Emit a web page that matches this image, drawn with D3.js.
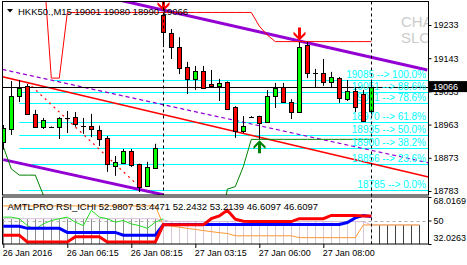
<!DOCTYPE html>
<html><head><meta charset="utf-8">
<script src="https://cdn.jsdelivr.net/npm/d3@7"></script>
<style>
body{margin:0;background:#fff}
svg{display:block}
text{font-family:"Liberation Sans",Arial,sans-serif}
</style>
</head><body>
<svg id="c" width="467" height="265"></svg>
<script>
// ---------- DATA ----------
const opens  = [18916,18951,19041,19068,18992,18957,18957,18957,18981,18984,18960,18960,18949,18927,18851,18859,18892,18856,18797,18846,19260,19211,19173,19119,19087,19108,19073,19068,19079,19011,18946,18984,18986,18970,19041,19065,19024,18997,19179,19103,19103,19079,19089,19032,19054,19046,19001];
const highs  = [18962,19081,19084,19073,19003,18981,18958,18983,19000,18997,18981,18992,18960,18932,18878,18897,18897,18857,18862,18911,19267,19222,19200,19133,19122,19122,19111,19087,19080,19013,18986,18986,18987,19057,19076,19076,19032,19187,19187,19114,19141,19106,19092,19084,19065,19057,19080];
const lows   = [18895,18935,19024,18990,18954,18951,18956,18924,18940,18957,18938,18929,18905,18835,18824,18856,18848,18780,18794,18845,19173,19141,19100,19046,19057,19060,19065,19027,19003,18927,18940,18983,18923,18970,19008,19022,18978,18995,19089,19065,19068,19065,19022,19027,18997,18970,18990];
const closes = [18954,19041,19062,18992,18957,18976,18957,18981,18981,18965,18960,18951,18924,18856,18862,18892,18854,18794,18848,18900,19214,19173,19116,19087,19108,19062,19068,19076,19005,18946,18960,18984,18967,19041,19062,19024,18997,19173,19103,19103,19079,19092,19035,19054,19011,18973,19066];

const timeLabels  = ["26 Jan 2016","26 Jan 06:15","26 Jan 08:15","27 Jan 03:15","27 Jan 06:00","27 Jan 08:00"];
const timeTickIdx = [0,8,16,24,32,40];
const priceTicks  = [19233,19143,19053,18963,18873,18783];
const lastPrice   = 19066;

const fibPrices = [19085,19051,19021,18970,18935,18900,18856,18785];
const fibPct    = ["100.0%","88.6%","78.6%","61.8%","50.0%","38.2%","23.6%","0.0%"];
const fibStart  = [6,2,2,2,2,2,2,2];

// trend lines: [barIndex, price] anchor pairs
const upperChannel = [[14,19303],[53,19111]];
const lowerChannel = [[0,18868],[20,18773]];
const redTrend     = [[0,19092],[53,18822]];
const purpleDash   = [[0,19112],[53,18860]];
const redDotted    = [[3,19078],[17,18795]];

// envelope-style indicator lines (per bar)
const hiLine = [19400,19400,19400,19400,19400,19400,19089,19089,19266,19267,19267,19267,19267,19267,19267,19267,19267,19267,19267,19267,19267,19267,19267,19267,19267,19267,19267,19267,19267,19267,19267,19267,19230,19206,19188,19188,19188,19188,19188,19188,19188,19188,19188,19188,19188,19188,19188];
const loLine = [18903,18843,18826,18826,18826,18772,18650,18650,18650,18650,18650,18650,18650,18650,18650,18650,18650,18650,18650,18650,18650,18650,18650,18650,18650,18650,18650,18650,18788,18795,18849,18923,18923,18923,18923,18923,18923,18923,18923,18923,18923,18923,18923,18923,18923,18923,18923];

const sellSignals = [20,37];
const buySignals  = [32];
const markerBars  = [20,46];

// sub window (AMTLPRO RSI_ICHI)
const subBlue  = [45.6,45.6,45.6,44.0,44.0,44.0,44.0,44.0,40.9,40.9,40.9,40.9,40.9,40.9,40.9,38.8,38.8,38.8,38.8,38.8,46.7,46.9,46.9,46.9,46.9,46.9,46.9,46.9,46.9,46.9,46.9,46.9,46.9,46.9,46.9,46.9,46.9,46.9,46.9,46.9,46.9,46.9,46.9,48.5,52.0,53.9,52.98];
const subRed   = [38.8,38.8,38.8,33.6,33.6,33.6,33.6,33.6,33.6,37.5,37.5,37.5,37.5,33.6,33.6,33.6,33.6,33.6,33.6,33.6,46.7,46.7,46.7,46.7,46.7,46.7,51.4,53.5,57.8,51.0,49.4,49.2,49.2,49.2,49.2,49.2,49.2,51.4,51.4,51.4,51.4,53.9,53.9,53.9,53.9,53.4,53.45];
const subGreen = [52.6,52.6,51.4,46.1,43.5,47.4,50.0,51.4,52.6,48.7,46.1,57.8,52.6,51.4,48.7,50.0,47.4,46.1,44.0,48.7,51.4];
const subSpanA = [61.2,61.2,61.2,61.2,61.2,61.2,61.2,61.2,61.2,61.2,61.2,61.2,61.2,61.2,61.2,61.2,61.2,61.2,61.2,61.2,46.7,45.8,44.9,44.0,43.2,42.3,41.5,40.7,40.1,38.3,38.3,38.3,38.3,38.3,38.3,38.3,38.3,36.9,36.9,36.9,36.9,36.9,36.9,36.9,36.9,46.6,46.6,46.6,46.6,46.6,46.6,46.6,46.6];
const subSpanB = [51.4,51.4,51.4,51.4,51.4,51.4,51.4,51.4,51.4,51.4,51.4,51.4,51.4,51.4,51.4,51.4,51.4,51.4,51.4,51.4,50.5,49.2,49.2,49.2,49.2,49.2,49.2,49.2,49.2,49.2,49.2,49.2,49.2,49.2,49.2,49.2,49.2,49.2,49.2,49.2,49.2,49.2,49.2,49.2,49.2,49.2,46.6,46.6,46.6,46.6,46.6,46.6,46.6];
const subTicks = [68.0169,50,32.0263];
const subLevel = 50;
const subTitle = "AMTLPRO RSI_ICHI 52.9807 53.4471 52.2432 53.2139 46.6097 46.6097";
const header = "HKK50.,M15 19001 19080 18990 19066";

// ---------- LAYOUT ----------
const M = {l:2.5, r:428.5, t:1.5, b:195};
const S = {t:197, b:244};
const svg = d3.select("#c");
const x  = d3.scaleLinear().domain([0,53]).range([3.3,427.3]);
const y  = d3.scaleLinear().domain([18783,19233]).range([191,25]);
const ys = d3.scaleLinear().domain([32.0263,68.0169]).range([244,197]);
const cx = i => Math.round(x(i)) + 0.5;

const defs = svg.append("defs");
defs.append("clipPath").attr("id","mclip").append("rect")
  .attr("x",M.l).attr("y",M.t).attr("width",M.r-M.l).attr("height",M.b-M.t);
defs.append("clipPath").attr("id","sclip").append("rect")
  .attr("x",M.l).attr("y",S.t).attr("width",M.r-M.l).attr("height",S.b-S.t);

const main = svg.append("g").attr("clip-path","url(#mclip)");
const sub  = svg.append("g").attr("clip-path","url(#sclip)");

// watermark (clipped at the plot edge)
main.append("text").attr("x",401).attr("y",27).attr("font-size",15).attr("fill","#cccccc").text("CHA");
main.append("text").attr("x",401).attr("y",43).attr("font-size",15).attr("fill","#cccccc").text("SLC");

// helper: line through two anchors, optionally extended to plot edges
function extLine(g, pts, x0, x1, attrs, extend){
  const [[i0,p0],[i1,p1]] = pts;
  const f = i => p0 + (p1-p0)*(i-i0)/(i1-i0);
  const a = extend ? x.invert(x0) : i0, b = extend ? x.invert(x1) : i1;
  const l = g.append("line").attr("x1",x(a)).attr("y1",y(f(a))).attr("x2",x(b)).attr("y2",y(f(b)));
  for (const k in attrs) l.attr(k, attrs[k]);
}

// fib lines
fibPrices.forEach((p,k)=>{
  main.append("line").attr("x1",x(fibStart[k])).attr("x2",M.r)
    .attr("y1",Math.round(y(p))+0.5).attr("y2",Math.round(y(p))+0.5)
    .attr("stroke","#00ffff").attr("stroke-width",1);
});

// trend lines
extLine(main, redTrend, M.l, M.r, {stroke:"#ff0000","stroke-width":1.5}, true);
extLine(main, purpleDash, M.l, M.r, {stroke:"#9400d3","stroke-width":1.2,"stroke-dasharray":"4,3"}, true);
extLine(main, redDotted, 0, 0, {stroke:"#ff0000","stroke-width":1.2,"stroke-dasharray":"2,4"}, false);
extLine(main, upperChannel, M.l, M.r, {stroke:"#9400d3","stroke-width":3}, false);
extLine(main, lowerChannel, M.l, M.r, {stroke:"#9400d3","stroke-width":3}, false);

// indicator lines
const lineGen = d3.line().x((d,i)=>x(i)).y(d=>y(d));
main.append("path").attr("d",lineGen(hiLine)).attr("fill","none").attr("stroke","#ff0000").attr("stroke-width",1);
main.append("path").attr("d",lineGen(loLine)).attr("fill","none").attr("stroke","#008000").attr("stroke-width",1);

// bid line
main.append("line").attr("x1",M.l).attr("x2",M.r)
  .attr("y1",Math.round(y(lastPrice))+0.5).attr("y2",Math.round(y(lastPrice))+0.5)
  .attr("stroke","#000").attr("stroke-width",1);

// fib labels
fibPrices.forEach((p,k)=>{
  main.append("text").attr("x",426).attr("y",y(p)-2).attr("text-anchor","end")
    .attr("font-size",10).attr("fill","#00ffff").text(p+" --> "+fibPct[k]);
});

// candles
const cg = main.append("g");
opens.forEach((o,i)=>{
  const c = closes[i], X = cx(i);
  cg.append("line").attr("x1",X).attr("x2",X).attr("y1",y(highs[i])).attr("y2",y(lows[i]))
    .attr("stroke","#000").attr("stroke-width",1);
  if (Math.abs(y(o)-y(c)) < 1) {
    cg.append("line").attr("x1",X-2.5).attr("x2",X+2.5).attr("y1",Math.round(y(c))+0.5).attr("y2",Math.round(y(c))+0.5)
      .attr("stroke","#000").attr("stroke-width",1);
  } else {
    const t = Math.round(y(Math.max(o,c)))+0.5, b = Math.round(y(Math.min(o,c)))+0.5;
    cg.append("rect").attr("x",X-2).attr("width",4).attr("y",t).attr("height",b-t)
      .attr("fill", c>o ? "#00ff00" : "#ff0000").attr("stroke","#000").attr("stroke-width",1);
  }
});

// dashed vertical markers
markerBars.forEach((i,k)=>{
  svg.append("line").attr("x1",cx(i)).attr("x2",cx(i)).attr("y1",M.t).attr("y2", k===0 ? M.b : S.b)
    .attr("stroke","#000").attr("stroke-width",1).attr("stroke-dasharray","3,3");
});

// signal arrows
const downArrow = "M0,0 L-6,-6 L-6,-9 L-1.5,-4.5 L-1.5,-13 L1.5,-13 L1.5,-4.5 L6,-9 L6,-6 Z";
sellSignals.forEach(i=>{
  main.append("path").attr("d",downArrow).attr("fill","#ff0000")
    .attr("transform",`translate(${cx(i)},${y(highs[i])-1.5})`);
});
buySignals.forEach(i=>{
  main.append("path").attr("d",downArrow).attr("fill","#008000")
    .attr("transform",`translate(${cx(i)},${y(lows[i])+1}) scale(1,-1)`);
});

// header
svg.append("path").attr("d","M7,9 L13,9 L10,12.5 Z").attr("fill","#000");
svg.append("text").attr("x",18).attr("y",14.5).attr("font-size",9.5).attr("fill","#000").text(header);

// ---------- SUB WINDOW ----------
subSpanB.forEach((v,i)=>{
  sub.append("line").attr("x1",cx(i)).attr("x2",cx(i)).attr("y1",ys(v)).attr("y2",S.b)
    .attr("stroke", i<20 ? "#8c8c8c" : (i<=46 ? "#d8c8d8" : "#404040")).attr("stroke-width",1);
});
sub.append("line").attr("x1",M.l).attr("x2",M.r).attr("y1",Math.round(ys(subLevel))+0.5).attr("y2",Math.round(ys(subLevel))+0.5)
  .attr("stroke","#b0b0b0").attr("stroke-dasharray","3,3");
const sl = d3.line().x((d,i)=>x(i)).y(d=>ys(d));
sub.append("path").attr("d",sl(subSpanB)).attr("fill","none").attr("stroke","#d8bfd8").attr("stroke-width",1);
sub.append("path").attr("d",sl(subSpanA)).attr("fill","none").attr("stroke","#ff9933").attr("stroke-width",1);
sub.append("path").attr("d",sl(subGreen)).attr("fill","none").attr("stroke","#22dd22").attr("stroke-width",1);
sub.append("path").attr("d",sl(subBlue)).attr("fill","none").attr("stroke","#0000ff").attr("stroke-width",3);
sub.append("path").attr("d",sl(subRed)).attr("fill","none").attr("stroke","#ff0000").attr("stroke-width",3);
svg.append("text").attr("x",7.5).attr("y",210).attr("font-size",9.5).attr("fill","#000").text(subTitle);

// ---------- FRAMES & AXES ----------
svg.append("rect").attr("x",M.l).attr("y",M.t).attr("width",M.r-M.l).attr("height",M.b-M.t)
  .attr("fill","none").attr("stroke","#000");
svg.append("rect").attr("x",M.l).attr("y",S.t).attr("width",M.r-M.l).attr("height",S.b-S.t)
  .attr("fill","none").attr("stroke","#000");

const pa = svg.append("g").attr("transform",`translate(${M.r},0)`)
  .call(d3.axisRight(y).tickValues(priceTicks).tickSize(3).tickPadding(2).tickFormat(d3.format("d")));
pa.select(".domain").remove();
pa.selectAll("text").attr("font-size",9).attr("fill","#000").style("font-family","Liberation Sans, Arial, sans-serif");

// current price tag (covers the tick label beneath it, as in the terminal)
svg.append("rect").attr("x",429).attr("y",y(lastPrice)-5.5).attr("width",38).attr("height",11).attr("fill","#000");
svg.append("text").attr("x",433).attr("y",y(lastPrice)+3.3).attr("font-size",9).attr("fill","#fff").text(lastPrice);

const sa = svg.append("g").attr("transform",`translate(${M.r},0)`)
  .call(d3.axisRight(ys).tickValues(subTicks).tickSize(3).tickPadding(2).tickFormat(d=>d));
sa.select(".domain").remove();
sa.selectAll("text").attr("font-size",9).attr("fill","#000").style("font-family","Liberation Sans, Arial, sans-serif")
  .attr("dy",(d,i)=> i===0 ? "0.75em" : (i===2 ? "-0.35em" : "0.32em"));

const ta = svg.append("g").attr("transform",`translate(0,${S.b})`)
  .call(d3.axisBottom(x).tickValues(timeTickIdx).tickSize(4).tickPadding(2).tickFormat((d,i)=>timeLabels[i]));
ta.select(".domain").remove();
ta.selectAll("text").attr("font-size",9).attr("fill","#000").attr("text-anchor","start").attr("dx","-1")
  .style("font-family","Liberation Sans, Arial, sans-serif");
</script>
</body></html>
